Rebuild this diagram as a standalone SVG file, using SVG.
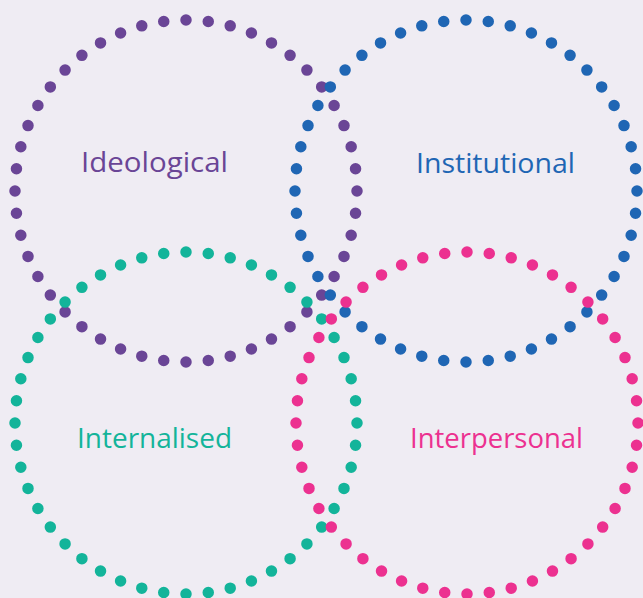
<svg xmlns="http://www.w3.org/2000/svg" width="643" height="598" viewBox="0 0 643 598">
  <style>
    .ring { fill: none; stroke-width: 11.5; stroke-linecap: round; stroke-dasharray: 0 1; }
    .label { font-family: "Open Sans", "Noto Sans", "Liberation Sans", sans-serif; font-size: 28px; text-anchor: start; }
  </style>
  <rect width="643" height="598" fill="#efecf3"/>

  <g id="ideological">
    <circle class="ring" cx="186" cy="191" r="171" pathLength="48" stroke="#6a4596"/>
    <text class="label" x="81" y="172" fill="#6a4596" textLength="147" lengthAdjust="spacingAndGlyphs">Ideological</text>
  </g>

  <g id="institutional">
    <circle class="ring" cx="466" cy="191" r="171" pathLength="48" stroke="#1f66b4"/>
    <text class="label" x="416" y="173" fill="#1f66b4" textLength="159" lengthAdjust="spacingAndGlyphs">Institutional</text>
  </g>

  <g id="internalised">
    <circle class="ring" cx="186" cy="423" r="171" pathLength="48" stroke="#13b49a"/>
    <text class="label" x="77" y="448" fill="#13b49a" textLength="155" lengthAdjust="spacingAndGlyphs">Internalised</text>
  </g>

  <g id="interpersonal">
    <circle class="ring" cx="467" cy="423" r="171" pathLength="48" stroke="#ec3190"/>
    <text class="label" x="410" y="448" fill="#ec3190" textLength="173" lengthAdjust="spacingAndGlyphs">Interpersonal</text>
  </g>
</svg>
